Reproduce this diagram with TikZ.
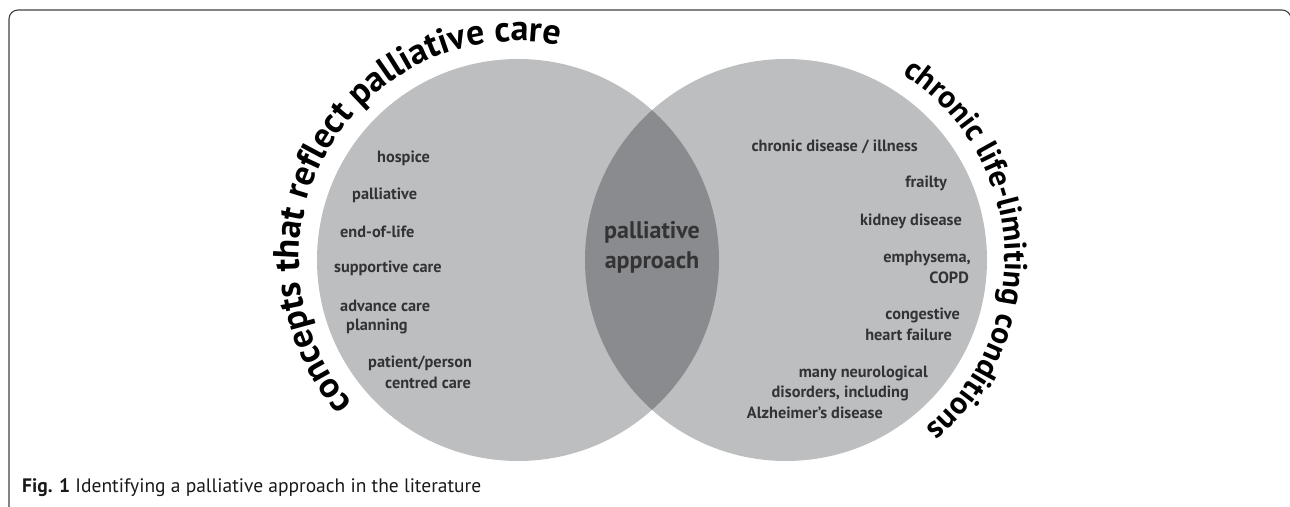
\documentclass[tikz,border=0pt]{standalone}
\usepackage{fontspec}
\setmainfont{PT Sans}
\usetikzlibrary{decorations.text}

\definecolor{ringgray}{HTML}{BCBEC0}
\definecolor{lensgray}{HTML}{8A8B8E}
\definecolor{labelgray}{HTML}{333335}

\begin{document}
\begin{tikzpicture}[x=1pt, y=1pt,
  item/.style={font=\bfseries\fontsize{16.3}{19}\selectfont, text=labelgray, inner sep=0pt},
  lenslabel/.style={font=\bfseries\fontsize{24}{28}\selectfont, text=labelgray, inner sep=0pt},
  arclabel/.style 2 args={decorate, decoration={text along path, text align=left,
      text={|\bfseries\fontsize{#1}{#1}\selectfont|#2}}}]

  \useasboundingbox (0, 0) rectangle (1290, 506);

  % frame, only the top part shows
  \begin{scope}
    \clip (0, 0) rectangle (1290, 506);
    \draw[black!75, line width=1.1pt, rounded corners=9pt] (9, -30) rectangle (1291, 496);
  \end{scope}

  % the two sets and their overlap
  \fill[ringgray] (518, 246) circle[radius=201];
  \fill[ringgray] (786, 246) circle[radius=201];
  \begin{scope}
    \clip (518, 246) circle[radius=201];
    \fill[lensgray] (786, 246) circle[radius=201];
  \end{scope}

  % curved titles
  \path[arclabel={36}{concepts that reflect palliative care}]
    (518, 246) ++(221:219) arc[start angle=221, end angle=45, radius=219];
  \path[arclabel={31.5}{chronic life-limiting conditions}]
    (786, 246) ++(58:219) arc[start angle=58, end angle=-80, radius=219];

  % left set
  \node[item, anchor=west] (hospice) at (377, 348) {hospice};
  \node[item, anchor=west] (palliative) at (352, 311) {palliative};
  \node[item, anchor=west] (endoflife) at (340, 274) {end-of-life};
  \node[item, anchor=west] (supportive) at (334, 238) {supportive care};
  \node[item, anchor=west] (advance) at (340, 200) {advance care};
  \node[item, anchor=west] (planning) at (346, 180) {planning};
  \node[item, anchor=west] (patient) at (368, 143) {patient/person};
  \node[item, anchor=west] (centred) at (385, 123) {centred care};

  % overlap
  \node[lenslabel] (lensA) at (652, 274) {palliative};
  \node[lenslabel] (lensB) at (652, 243) {approach};

  % right set
  \node[item, anchor=east] (chronic) at (918, 359) {chronic disease / illness};
  \node[item, anchor=east] (frailty) at (947, 323) {frailty};
  \node[item, anchor=east] (kidney) at (962, 285) {kidney disease};
  \node[item, anchor=east] (emphysema) at (971, 248) {emphysema,};
  \node[item, anchor=east] (copd) at (969, 228) {COPD};
  \node[item, anchor=east] (congestive) at (960, 191) {congestive};
  \node[item, anchor=east] (heart) at (952, 171) {heart failure};
  \node[item, anchor=east] (neuro) at (928, 133) {many neurological};
  \node[item, anchor=east] (disorders) at (909, 113) {disorders, including};
  \node[item, anchor=east] (alzheimer) at (883, 93) {Alzheimer's disease};

  \node[anchor=west, inner sep=0pt, text=black!90, font=\fontsize{19.5}{22}\selectfont]
    (caption) at (22, 18) {\textbf{Fig. 1} Identifying a palliative approach in the literature};

\end{tikzpicture}
\end{document}
